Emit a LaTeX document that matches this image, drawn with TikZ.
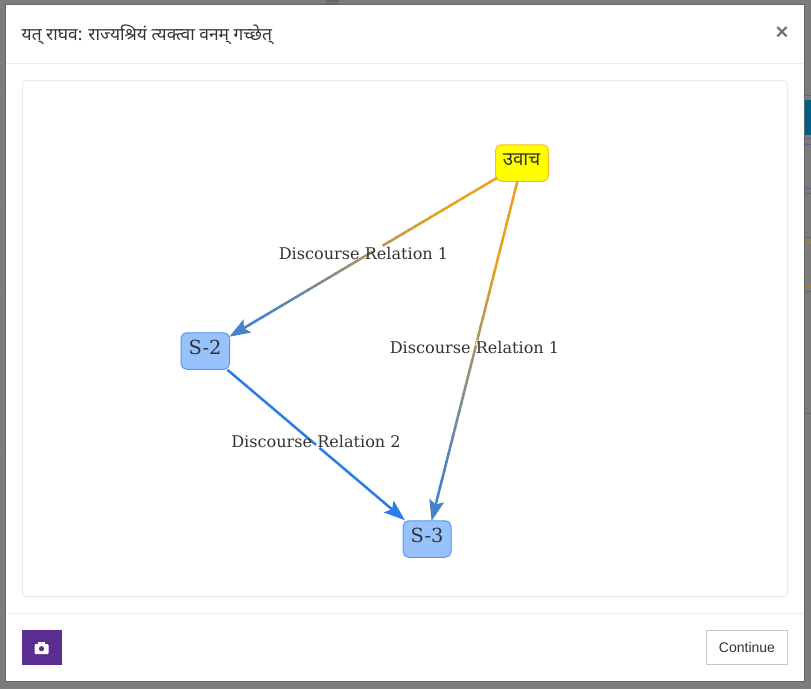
\documentclass[tikz,border=0pt]{standalone}
\usepackage{fontspec}
\setmainfont{DejaVu Serif}
\newfontfamily\devafont[Script=Devanagari]{Noto Sans}
\newfontfamily\uifont{Liberation Sans}
\usetikzlibrary{calc,arrows.meta}
\definecolor{backdrop}{HTML}{7C7C7C}
\definecolor{rulegray}{HTML}{E9ECEF}
\definecolor{inkgray}{HTML}{333333}
\definecolor{edgeorange}{HTML}{E8A21F}
\definecolor{edgeblue}{HTML}{2B7CE9}
\definecolor{nodeblue}{HTML}{97C2FC}
\definecolor{nodeyellow}{HTML}{FFFF00}
\definecolor{nodeamber}{HTML}{FFB81F}
\definecolor{purplebtn}{HTML}{5B2C91}
\definecolor{tealbar}{HTML}{005F85}
\definecolor{bgpurple}{HTML}{6B5F92}
\definecolor{bgamber}{HTML}{A8842C}
\definecolor{bggreen}{HTML}{3F7D64}
\tikzset{
  x=1pt,y=-1pt,
  graphnode/.style={draw=edgeblue!60!nodeblue,line width=1pt,fill=nodeblue,rounded corners=5.5pt,inner sep=0pt,text=inkgray},
  keynode/.style={graphnode,draw=nodeamber,fill=nodeyellow},
  edgeline/.style={line width=2.5pt},
  edgelabel/.style={font=\fontsize{16.1}{18}\selectfont,text=inkgray,inner sep=0pt},
  arrowtip/.style={-{Stealth[length=21pt,width=15pt,inset=4pt]}},
  rulefine/.style={draw=rulegray,line width=1pt},
  halo/.style={draw=white,line width=3.2pt},
}
\begin{document}
\begin{tikzpicture}
\useasboundingbox (0,0) rectangle (811,689);
\fill[backdrop] (0,0) rectangle (811,689);
% page showing through on the right
\fill[tealbar] (804,100) rectangle (811,135);
\foreach \yy in {95,138,144,188,193,237} \draw[bgpurple,line width=.8pt] (804,\yy) -- (811,\yy);
\foreach \yy in {242,286} \draw[bgamber,line width=.8pt] (804,\yy) -- (811,\yy);
\foreach \yy in {291,413} \draw[bggreen,line width=.8pt] (804,\yy) -- (811,\yy);
\draw[gray!60!black!70,line width=.6pt] (0,92) -- (6,92) (0,205) -- (6,205) (0,294) -- (6,294) (0,450) -- (6,450) (92,681) -- (92,689);
\draw[black!60,line width=1.2pt] (326,1) -- (339,1) (326,4) -- (339,4);
% dialog
\fill[white,draw=black!60,line width=1pt] (5.5,4.5) rectangle (804.5,681.5);
\draw[rulefine] (6,63.5) -- (804,63.5);
\draw[rulefine] (6,613.5) -- (804,613.5);
\draw[rulefine,rounded corners=4pt] (22.5,80.5) rectangle (787.5,596.5);
\node[anchor=west,inner sep=0pt,text=inkgray,font=\devafont\fontsize{17.4}{20}\selectfont] (title) at (21.5,35) {यत् राघव: राज्यश्रियं त्यक्त्वा वनम् गच्छेत्};
\node[text=black!55,font=\uifont\bfseries\fontsize{22}{22}\selectfont,inner sep=0pt] (closex) at (782,33) {×};
% graph
\node[keynode,minimum width=53pt,minimum height=36.5pt] (u) at (522,163) {};
\node[font=\devafont\fontsize{18.7}{22}\selectfont,text=inkgray,inner sep=0pt] (ut) at (521.5,160) {उवाच};
\node[graphnode,minimum width=48.5pt,minimum height=36.5pt] (s2) at (205.25,351) {};
\node[font=\fontsize{19.4}{22}\selectfont,text=inkgray,inner sep=0pt] (s2t) at (205,347) {S-2};
\node[graphnode,minimum width=48pt,minimum height=36.5pt] (s3) at (427,539) {};
\node[font=\fontsize{19.4}{22}\selectfont,text=inkgray,inner sep=0pt] (s3t) at (427,535) {S-3};
% border points of the gradient edges
\coordinate (a1) at ($(u.center)!0.0788!(s2.center)$);
\coordinate (b1) at ($(u.center)!0.9243!(s2.center)$);
\coordinate (a2) at ($(u.center)!0.048!(s3.center)$);
\coordinate (b2) at ($(u.center)!0.952!(s3.center)$);
\foreach \i in {0,...,36}{
  \pgfmathsetmacro{\ta}{\i/40}
  \pgfmathsetmacro{\tb}{(\i+1.15)/40}
  \pgfmathsetmacro{\tc}{min(100,max(0,(\i/39-0.22)/0.78*100))}
  \draw[edgeline,color=edgeblue!\tc!edgeorange] ($(a1)!\ta!(b1)$) -- ($(a1)!\tb!(b1)$);
  \draw[edgeline,color=edgeblue!\tc!edgeorange] ($(a2)!\ta!(b2)$) -- ($(a2)!\tb!(b2)$);
}
\draw[edgeline,edgeblue!85!edgeorange,arrowtip] ($(a1)!0.925!(b1)$) -- (b1);
\draw[edgeline,edgeblue!85!edgeorange,arrowtip] ($(a2)!0.925!(b2)$) -- (b2);
\draw[edgeline,edgeblue,arrowtip] (s2) -- (s3);
% white outline of the labels where they cross the edges
\draw[halo] ($(u.center)!0.44!(s2.center)$) -- ($(u.center)!0.47!(s2.center)$);
\draw[halo,line width=1.2pt] ($(u.center)!0.47!(s3.center)$) -- ($(u.center)!0.485!(s3.center)$);
\draw[halo] ($(s2.center)!0.5!(s3.center)$) -- ($(s2.center)!0.515!(s3.center)$);
% edge labels
\node[edgelabel] (l1) at (363.5,253.5) {Discourse Relation 1};
\node[edgelabel] (l2) at (474.5,347.5) {Discourse Relation 1};
\node[edgelabel] (l3) at (316,441.5) {Discourse Relation 2};
% footer
\fill[purplebtn] (22,630) rectangle (62,665);
\fill[white,rounded corners=1pt] (34.5,644) rectangle (48.5,654);
\fill[white] (38,642) rectangle (45,645);
\fill[purplebtn] (41.5,648.7) circle (2.6);
\node[draw=black!22,line width=1pt,minimum width=81pt,minimum height=34pt,inner sep=0pt,font=\uifont\fontsize{14}{17}\selectfont,text=inkgray] (cont) at (747,647.5) {Continue};
\end{tikzpicture}
\end{document}
